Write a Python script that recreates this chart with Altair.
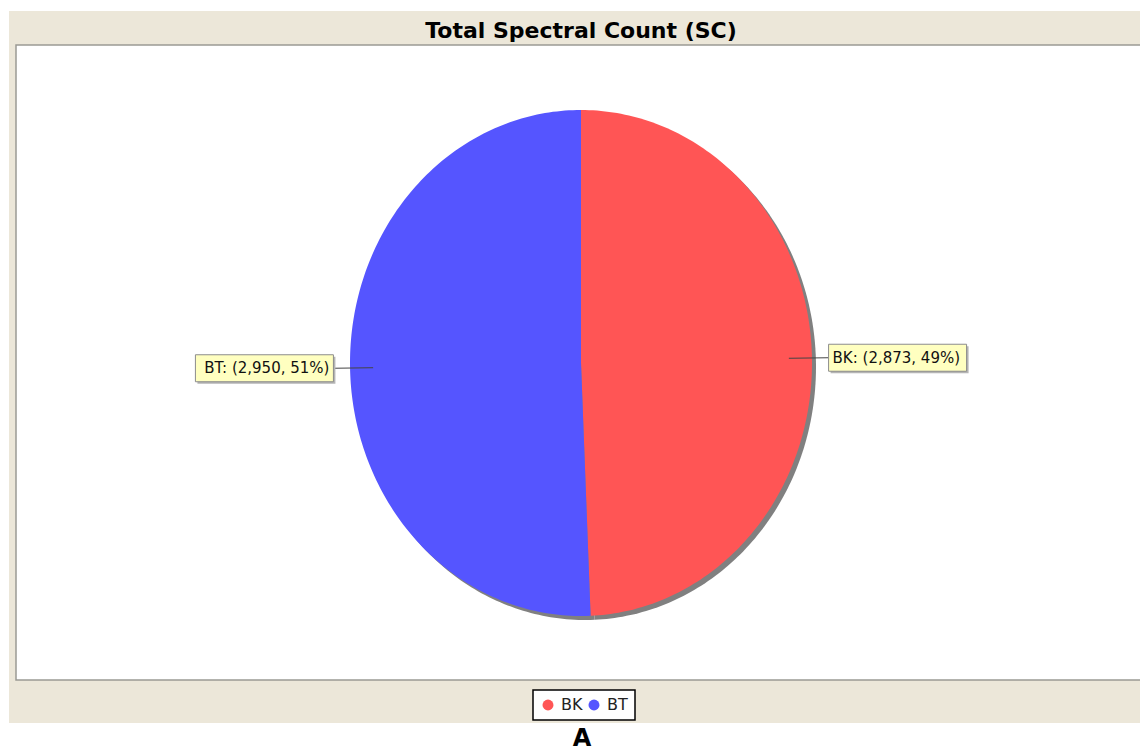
import math
import altair as alt
import pandas as pd

# ---- data ----
categories = ["BK", "BT"]
counts = [2873, 2950]
colors = ["#FF5555", "#5555FF"]
title_text = ["Total Spectral Count (SC)"]
panel_letter = ["A"]

total = sum(counts)

# pie slice outlines (unit ellipse; the x/y scales stretch it to an ellipse)
rows = []
mids = []
start = 0.0
for cat, c in zip(categories, counts):
    end = start + 360.0 * c / total
    n = max(2, int(math.ceil(end - start)))
    idx = 0
    rows.append({"cat": cat, "i": idx, "x": 0.0, "y": 0.0})
    idx += 1
    for k in range(n + 1):
        a = math.radians(start + (end - start) * k / n)
        rows.append({"cat": cat, "i": idx, "x": math.sin(a), "y": math.cos(a)})
        idx += 1
    rows.append({"cat": cat, "i": idx, "x": 0.0, "y": 0.0})
    mids.append(math.radians((start + end) / 2))
    start = end
pie_df = pd.DataFrame(rows)

lab_rows = []
for cat, c, m in zip(categories, counts, mids):
    pct = round(100 * c / total)
    lab_rows.append({
        "cat": cat,
        "text": f"{cat}: ({c:,}, {pct}%)",
        "x0": 0.9 * math.sin(m),
        "y0": 0.9 * math.cos(m),
        "lx": 1.072 * math.sin(m),
        "ly": math.cos(m),
        "side": "right" if math.sin(m) >= 0 else "left",
    })
lab_df = pd.DataFrame(lab_rows)

xscale = alt.Scale(domain=[-564 / 231, 558 / 231], nice=False, zero=False)
yscale = alt.Scale(domain=[-316 / 253, 317 / 253], nice=False, zero=False)
X = lambda f: alt.X(f, type="quantitative", scale=xscale, axis=None)
Y = lambda f: alt.Y(f, type="quantitative", scale=yscale, axis=None)

one = pd.DataFrame({"t": [""]})

# background panels
panel = alt.Chart(one).mark_rect(color="#ECE7D9").encode(
    x=alt.value(-8), x2=alt.value(1123), y=alt.value(-35), y2=alt.value(677)
)
plot_bg = alt.Chart(one).mark_rect(fill="white", stroke="#9a9a94", strokeWidth=1.5).encode(
    x=alt.value(-1), x2=alt.value(1135), y=alt.value(-1), y2=alt.value(634)
)

title = alt.Chart(pd.DataFrame({"t": title_text})).mark_text(
    font="DejaVu Sans", fontWeight="bold", fontSize=22, color="black",
    align="center", baseline="alphabetic"
).encode(text="t:N", x=alt.value(564), y=alt.value(-8))

letter = alt.Chart(pd.DataFrame({"t": panel_letter})).mark_text(
    font="DejaVu Sans", fontWeight="bold", fontSize=24, color="black",
    align="center", baseline="alphabetic"
).encode(text="t:N", x=alt.value(565), y=alt.value(700))

shadow = alt.Chart(pie_df).mark_line(
    filled=True, color="#808080", xOffset=4, yOffset=4
).encode(x=X("x"), y=Y("y"), detail="cat:N", order="i:Q")

pie = alt.Chart(pie_df).mark_line(filled=True).encode(
    x=X("x"), y=Y("y"), order="i:Q",
    color=alt.Color(
        "cat:N",
        scale=alt.Scale(domain=categories, range=colors),
        legend=alt.Legend(
            orient="none", legendX=516, legendY=644, direction="horizontal",
            title=None, fillColor="white", strokeColor="black",
            padding=7, symbolType="circle", symbolSize=120, symbolStrokeWidth=0,
            labelFontSize=16, labelFont="DejaVu Sans", labelColor="#222222",
            columnPadding=3, labelOffset=5,
        ),
    ),
)

links = alt.Chart(lab_df).mark_rule(color="#444444", strokeWidth=1).encode(
    x=X("x0"), y=Y("y0"), x2="lx:Q", y2="ly:Q"
)

label_layers = []
for side, sgn in (("right", 1), ("left", -1)):
    base = alt.Chart(lab_df).transform_filter(alt.datum.side == side)
    sh = base.mark_rect(
        color="#b5b5b5", xOffset=2, x2Offset=sgn * 138 + 2,
        yOffset=-11.5, y2Offset=15.5
    ).encode(x=X("lx"), x2="lx:Q", y=Y("ly"), y2="ly:Q")
    box = base.mark_rect(
        fill="#FFFFC0", stroke="#8c8c8c", strokeWidth=1,
        x2Offset=sgn * 138, yOffset=-13.5, y2Offset=13.5
    ).encode(x=X("lx"), x2="lx:Q", y=Y("ly"), y2="ly:Q")
    txt = base.mark_text(
        font="DejaVu Sans", fontSize=15, color="#111111",
        align="left" if sgn > 0 else "right", baseline="middle", dx=sgn * 4
    ).encode(x=X("lx"), y=Y("ly"), text="text:N")
    label_layers += [sh, box, txt]

chart = alt.layer(
    panel, plot_bg, title, letter, shadow, pie, links, *label_layers
).properties(
    width=1122, height=633,
    padding={"left": 17, "top": 46, "right": 1, "bottom": 74},
    autosize=alt.AutoSizeParams(type="none"),
    background="white",
).configure_view(stroke=None).configure_legend(strokeWidth=1.5)

chart.save("out.html", embed_options={"renderer": "svg", "actions": False})
